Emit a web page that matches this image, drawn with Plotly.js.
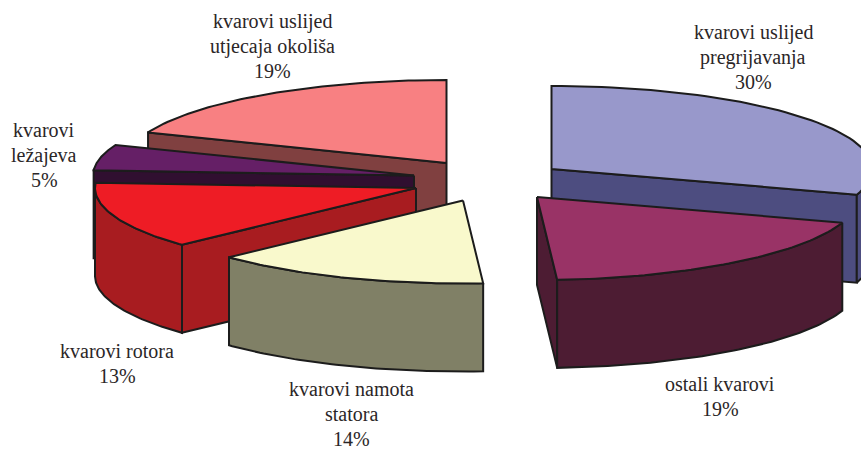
<!DOCTYPE html>
<html><head><meta charset="utf-8">
<script src="https://cdn.plot.ly/plotly-3.0.1.min.js"></script>
<style>html,body{margin:0;padding:0;background:#fff}</style></head>
<body><div id="c" style="width:861px;height:452px"></div>
<script>
const categories = [["kvarovi uslijed","pregrijavanja"],["ostali kvarovi"],["kvarovi namota","statora"],["kvarovi rotora"],["kvarovi","ležajeva"],["kvarovi uslijed","utjecaja okoliša"]];
const shares = [30,19,14,13,5,19];
const topColors = ["#9898cb","#993366","#f9f9cc","#ee1c25","#651f66","#f88082"];
const wallColors = ["#4d4d80","#4d1c33","#808066","#a81c20","#300f30","#804040"];
const apexX = [551.5,537,463,416,414,446.5];
const apexY = [169,197,200.5,188,175.5,163];
const labelX = [753,720,351,117,44,272];
const labelTopY = [32,384,389,351,130,21];
const drawOrder = [5,0,4,3,2,1];
const RX=321, RY=83, DEPTH=88, LINE_STEP=25;

function pt(i,deg,d){const a=deg*Math.PI/180;return [apexX[i]+RX*Math.sin(a),apexY[i]-RY*Math.cos(a)+d];}
function poly(pts,fill){return {type:'scatter',mode:'lines',x:pts.map(p=>p[0]),y:pts.map(p=>p[1]),fill:'toself',fillcolor:fill,
  line:{color:'#1c1c1c',width:2},hoverinfo:'skip',showlegend:false};}
const total=shares.reduce((a,b)=>a+b,0);
const starts=[];let acc=0;shares.forEach(v=>{starts.push(acc/total*360);acc+=v;});
const traces=[];
const sinD=a=>Math.sin(a*Math.PI/180);
drawOrder.forEach(i=>{
  const a0=starts[i],a1=a0+shares[i]/total*360;
  const apex=d=>[apexX[i],apexY[i]+d];
  const arc=[];const n=60;
  for(let k=0;k<=n;k++)arc.push(a0+(a1-a0)*k/n);
  // radial walls that face the viewer
  const wall=a=>traces.push(poly([apex(0),pt(i,a,0),pt(i,a,DEPTH),apex(DEPTH),apex(0)],wallColors[i]));
  if(sinD(a0)<-1e-6)wall(a0);
  if(sinD(a1)>1e-6)wall(a1);
  // outer wall (front half only)
  const front=arc.filter(a=>a>=90&&a<=270);
  if(front.length>1){
    const w=front.map(a=>pt(i,a,0)).concat(front.slice().reverse().map(a=>pt(i,a,DEPTH)));
    w.push(w[0]);traces.push(poly(w,wallColors[i]));
  }
  // top face
  const t=[apex(0)].concat(arc.map(a=>pt(i,a,0)));t.push(apex(0));
  traces.push(poly(t,topColors[i]));
});
const annotations=[];
categories.forEach((lines,i)=>{
  lines.concat([shares[i]+'%']).forEach((txt,k)=>annotations.push({x:labelX[i],y:labelTopY[i]+k*LINE_STEP,xref:'x',yref:'y',text:txt,showarrow:false,align:'center',
    xanchor:'center',yanchor:'middle',borderpad:0,font:{family:'"Liberation Serif",serif',size:20,color:'#2b2627'}}));
});
Plotly.newPlot('c',traces,{width:861,height:452,margin:{l:0,r:0,t:0,b:0},paper_bgcolor:'#fff',plot_bgcolor:'#fff',showlegend:false,
  xaxis:{range:[0,861],visible:false,fixedrange:true},yaxis:{range:[452,0],visible:false,fixedrange:true},annotations},{displayModeBar:false,staticPlot:true});
</script></body></html>
